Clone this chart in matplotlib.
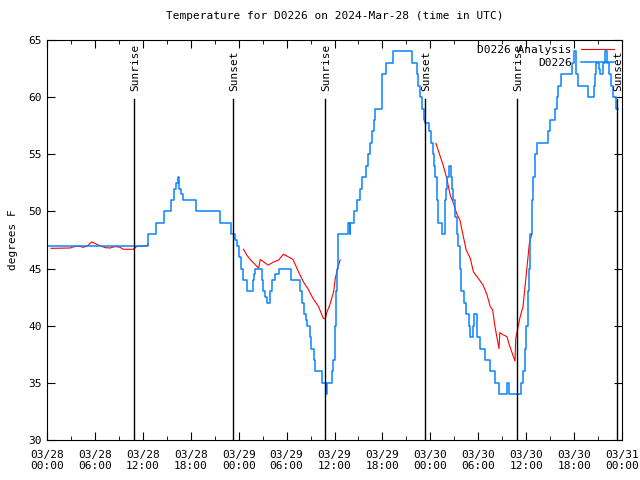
#temperature trace with sunrise / sunset markers
import numpy as np
import matplotlib.pyplot as plt

# observations (hours since 03/28 00:00 UTC, degrees F), step changes
obs_h = [0.0, 12.6, 13.6, 14.6, 15.5, 15.95, 16.2, 16.35, 16.55, 16.75, 17.0, 18.7, 21.7, 23.0, 23.6,
         23.8, 24.0, 24.3, 24.6, 25.1, 25.75, 25.9, 26.1, 26.9, 27.1, 27.3, 27.6, 27.9, 28.2, 28.5,
         29.0, 30.5, 31.7, 31.9, 32.2, 32.4, 32.6, 32.9, 33.1, 33.4, 33.6, 34.4, 34.7, 34.9, 35.1,
         35.7, 35.85, 36.0, 36.1, 36.2, 36.3, 36.4, 36.5, 37.7, 37.9, 38.0, 38.5, 38.8, 39.2, 39.5,
         39.9, 40.2, 40.4, 40.7, 40.9, 41.1, 41.9, 42.5, 43.3, 45.7, 46.3, 46.5, 46.7, 47.0, 47.2,
         47.35, 47.8, 48.1, 48.3, 48.5, 48.6, 48.8, 49.0, 49.4, 49.85, 49.95, 50.1, 50.3, 50.6,
         50.75, 50.9, 51.1, 51.3, 51.5, 51.7, 51.9, 52.2, 52.5, 52.8, 53.0, 53.3, 53.5, 53.8, 54.2,
         54.9, 55.5, 56.1, 56.6, 57.6, 57.9, 59.2, 59.4, 59.6, 59.8, 60.0, 60.2, 60.35, 60.5, 60.7,
         60.9, 61.1, 61.4, 62.3, 62.7, 63.0, 63.6, 63.8, 64.0, 64.3, 65.6, 65.8, 66.0, 66.2, 66.3,
         66.5, 67.7, 68.4, 68.5, 68.6, 68.8, 69.1, 69.3, 69.6, 69.9, 70.1, 70.4, 70.6, 70.9, 71.3, 71.5]
obs_t = [47, 48, 49, 50, 51, 52, 52.5, 53, 52, 51.5, 51, 50, 49, 48, 47.5,
         47, 46, 45, 44, 43, 44, 44.5, 45, 44, 43, 42.5, 42, 43, 44, 44.5,
         45, 44, 43, 42, 41, 40.5, 40, 39, 38, 37, 36, 35, 35, 34, 35,
         36, 37, 38, 40, 43, 45, 47, 48, 49, 48, 49, 50, 51, 52, 53,
         54, 55, 56, 57, 58, 59, 62, 63, 64, 63, 62, 61, 60, 59, 58,
         57.7, 57, 56, 55, 54, 53, 51, 49, 48, 51, 52, 53, 54, 53,
         52, 51, 49.5, 48, 47, 45, 43, 42, 41, 40, 39, 40, 41, 39, 38,
         37, 36, 35, 34, 35, 34, 34, 35, 36, 38, 40, 43, 45, 48, 51,
         53, 55, 56, 56, 57, 58, 59, 60, 61, 62, 62, 63, 64, 63, 62,
         61, 60, 60, 61, 62, 63, 62.5, 62, 63, 64, 63, 62, 61, 60, 59, 59]

# analysis curve, nan = gap
ana_h = [0.5, 2.9, 3.4, 4.1, 4.5, 5.0, 5.6, 6.0, 6.6, 7.3, 7.9, 8.5, 9.1, 9.55, 10.8, 11.2, 11.9, 12.5, 12.7,
         np.nan,
         24.6, 25.0, 25.5, 26.0, 26.5, 26.7, 27.1, 27.7, 28.3, 29.0, 29.6, 30.2, 30.8, 31.5, 32.1, 32.7,
         33.3, 34.0, 34.6, 34.85, 35.0, 35.4, 35.9, 36.1, 36.5, 36.7,
         np.nan,
         48.7, 49.2, 49.6, 50.0, 50.5, 50.9, 51.3, 51.7, 52.1, 52.5, 53.0, 53.4, 54.0, 54.6, 55.1, 55.5,
         55.8, 56.1, 56.4, 56.6, 56.7, 57.0, 57.6, 57.9, 58.4, 58.6, 58.7, 58.9, 59.2, 59.6, 60.0, 60.4, 60.7]
ana_t = [46.77, 46.8, 46.92, 46.95, 46.86, 46.95, 47.33, 47.2, 47.0, 46.83, 46.8, 46.92, 46.88, 46.69, 46.69,
         46.92, 46.98, 47.0, 47.15,
         np.nan,
         46.69, 46.2, 45.75, 45.4, 45.03, 45.8, 45.6, 45.3, 45.55, 45.75, 46.25, 46.04, 45.8, 44.7, 43.85,
         43.2, 42.4, 41.67, 40.65, 40.6, 41.1, 41.8, 43.0, 44.15, 45.3, 45.75,
         np.nan,
         55.96, 54.9, 54.06, 53.04, 51.4, 50.7, 49.8, 49.25, 47.9, 46.6, 45.9, 44.7, 44.15, 43.56, 42.7,
         41.67, 41.4, 39.9, 38.75, 38.0, 39.4, 39.25, 39.04, 38.3, 37.3, 36.9, 38.9, 39.6, 40.65, 41.67,
         44.4, 47.2, 48.0]

sun_h = [10.9, 23.3, 34.8, 47.3, 58.85, 71.35]
sun_lbl = ["Sunrise", "Sunset", "Sunrise", "Sunset", "Sunrise", "Sunset"]

xtick_lbl = ["03/28\n00:00", "03/28\n06:00", "03/28\n12:00", "03/28\n18:00",
             "03/29\n00:00", "03/29\n06:00", "03/29\n12:00", "03/29\n18:00",
             "03/30\n00:00", "03/30\n06:00", "03/30\n12:00", "03/30\n18:00", "03/31\n00:00"]

plt.rcParams['font.family'] = 'DejaVu Sans Mono'
plt.rcParams['font.size'] = 8

fig = plt.figure(figsize=(6.4, 4.8), dpi=100)
ax = fig.add_axes([47/640, 40/480, 575/640, 400/480])

ax.plot(ana_h, ana_t, color='#ff0000', lw=0.8, label='D0226 Analysis')
ax.plot(obs_h, obs_t, color='#0a84ff', lw=1.1, drawstyle='steps-post', label='D0226')

for h, s in zip(sun_h, sun_lbl):
    ax.plot([h, h], [30, 59.8], color='black', lw=1)
    ax.text(h + 0.15, 60.5, s, rotation=90, ha='center', va='bottom')

ax.set_xlim(0, 72)
ax.set_ylim(30, 65)
ax.set_xticks(np.arange(0, 73, 6))
ax.set_xticklabels(xtick_lbl)
ax.set_xticks(np.arange(0, 73, 3), minor=True)
ax.set_yticks(np.arange(30, 66, 5))
ax.tick_params(which='both', direction='in', top=True, right=True)
ax.tick_params(which='major', length=6)
ax.tick_params(which='minor', length=3)
ax.tick_params(axis='x', pad=7)
ax.set_ylabel('degrees F')
ax.yaxis.set_label_coords(-0.05, 0.5)
ax.set_title('Temperature for D0226 on 2024-Mar-28 (time in UTC)', fontsize=8, pad=15)

leg = ax.legend(loc='upper right', frameon=False, markerfirst=False, handlelength=3.0,
                borderaxespad=0.05, labelspacing=0.3, bbox_to_anchor=(0.995, 1.0))
for t in leg.get_texts():
    t.set_ha('right')

fig.savefig('out.png')
